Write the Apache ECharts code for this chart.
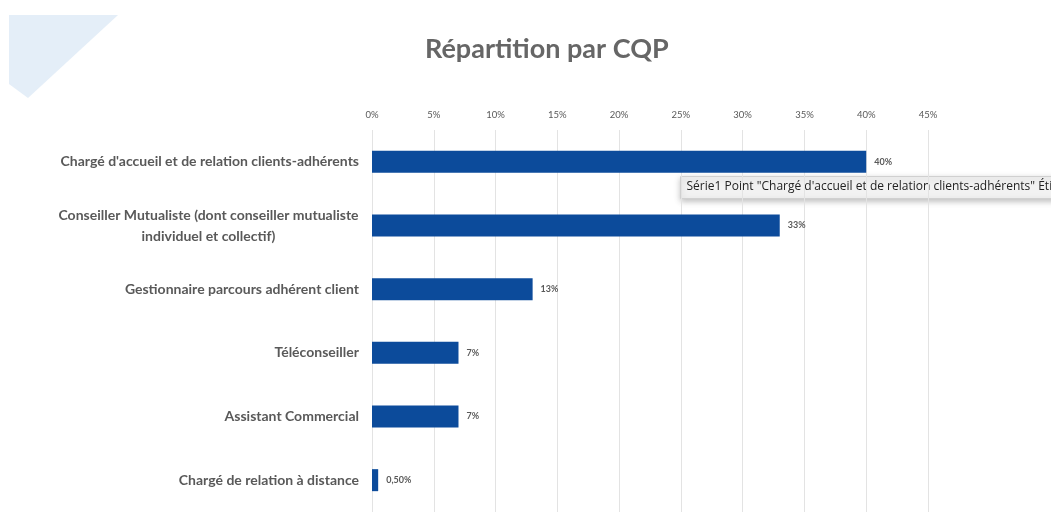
<!DOCTYPE html>
<html>
<head>
<meta charset="utf-8">
<script src="https://cdn.jsdelivr.net/npm/echarts@6/dist/echarts.min.js"></script>
<style>
  html, body { margin: 0; padding: 0; background: #ffffff; }
  #chart { width: 1051px; height: 512px; }
</style>
</head>
<body>
<div id="chart"></div>
<script>
// Job titles (CQP), top to bottom
const categories = [
  "Chargé d'accueil et de relation clients-adhérents",
  "Conseiller Mutualiste (dont conseiller mutualiste\nindividuel et collectif)",
  "Gestionnaire parcours adhérent client",
  "Téléconseiller",
  "Assistant Commercial",
  "Chargé de relation à distance"
];
// Share of each CQP, in percent
const shares = [40, 33, 13, 7, 7, 0.5];
// Percent ticks along the top axis
const tickValues = [0, 5, 10, 15, 20, 25, 30, 35, 40, 45];

const FONT = 'Lato, "Open Sans", sans-serif';
const GREY = '#595959';
const CAT_FONT = 'bold 14px Lato';

function pctLabel(v) {
  return Number.isInteger(v) ? v + '%' : v.toFixed(2).replace('.', ',') + '%';
}

// width of the widest line of a wrapped category name, so the lines can be centred in one block
function blockWidth(text) {
  const ctx = document.createElement('canvas').getContext('2d');
  ctx.font = CAT_FONT;
  return Math.ceil(Math.max(...text.split('\n').map(l => ctx.measureText(l).width)));
}

const chart = echarts.init(document.getElementById('chart'), null, { renderer: 'canvas' });

chart.setOption({
  backgroundColor: '#ffffff',
  animation: false,
  title: {
    text: 'Répartition par CQP',
    left: 420,
    top: 31,
    textStyle: { fontFamily: FONT, fontSize: 27, fontWeight: 'bold', color: '#666666' }
  },
  graphic: [
    {
      // pale corner ribbon
      type: 'polygon',
      shape: { points: [[9, 15], [118, 15], [28, 98], [9, 84]] },
      style: { fill: '#e4eef8' },
      silent: true
    },
    {
      // hover tag on the first bar
      type: 'group',
      left: 680,
      top: 176,
      children: [
        {
          type: 'rect',
          shape: { x: 0, y: 0, width: 400, height: 22 },
          style: {
            fill: '#f2f2f2', stroke: '#d0d0d0', lineWidth: 1,
            shadowBlur: 6, shadowColor: 'rgba(0,0,0,0.25)', shadowOffsetY: 2
          }
        },
        {
          type: 'text',
          x: 6, y: 4,
          style: {
            text: 'Série1 Point "Chargé d\'accueil et de relation clients-adhérents" Étiquette',
            fontFamily: '"Open Sans", sans-serif', fontSize: 12, fill: '#222222'
          }
        }
      ]
    }
  ],
  grid: { left: 372, right: 123, top: 130, bottom: -4, containLabel: false },
  xAxis: {
    type: 'value',
    position: 'top',
    min: 0,
    max: 45,
    interval: 5,
    axisLine: { show: false },
    axisTick: { show: false },
    axisLabel: {
      margin: 10,
      fontFamily: FONT, fontSize: 9.5, color: GREY,
      formatter: v => tickValues.includes(v) ? v + '%' : ''
    },
    splitLine: { show: true, lineStyle: { color: '#e3e3e3', width: 1 } }
  },
  yAxis: {
    type: 'category',
    inverse: true,
    data: categories,
    axisLine: { show: false },
    axisTick: { show: false },
    axisLabel: {
      margin: 13,
      align: 'right',
      fontFamily: FONT, fontSize: 14, fontWeight: 'bold', color: GREY,
      lineHeight: 21,
      formatter: function (value) {
        if (value.indexOf('\n') >= 0) {
          const w = blockWidth(value);
          return value.split('\n').map(l => '{c' + w + '|' + l + '}').join('\n');
        }
        return value;
      },
      rich: Object.fromEntries(categories.filter(c => c.includes('\n')).map(c => [
        'c' + blockWidth(c),
        { width: blockWidth(c), align: 'center', fontFamily: FONT, fontSize: 14,
          fontWeight: 'bold', color: GREY, lineHeight: 21 }
      ]))
    }
  },
  series: [{
    type: 'bar',
    name: 'Série1',
    data: shares,
    barWidth: 22,
    itemStyle: { color: '#0c4b9b' },
    label: {
      show: true,
      position: 'right',
      distance: 8,
      fontFamily: FONT, fontSize: 9, fontWeight: 'bold', color: GREY,
      formatter: p => pctLabel(p.value)
    }
  }]
});
</script>
</body>
</html>
